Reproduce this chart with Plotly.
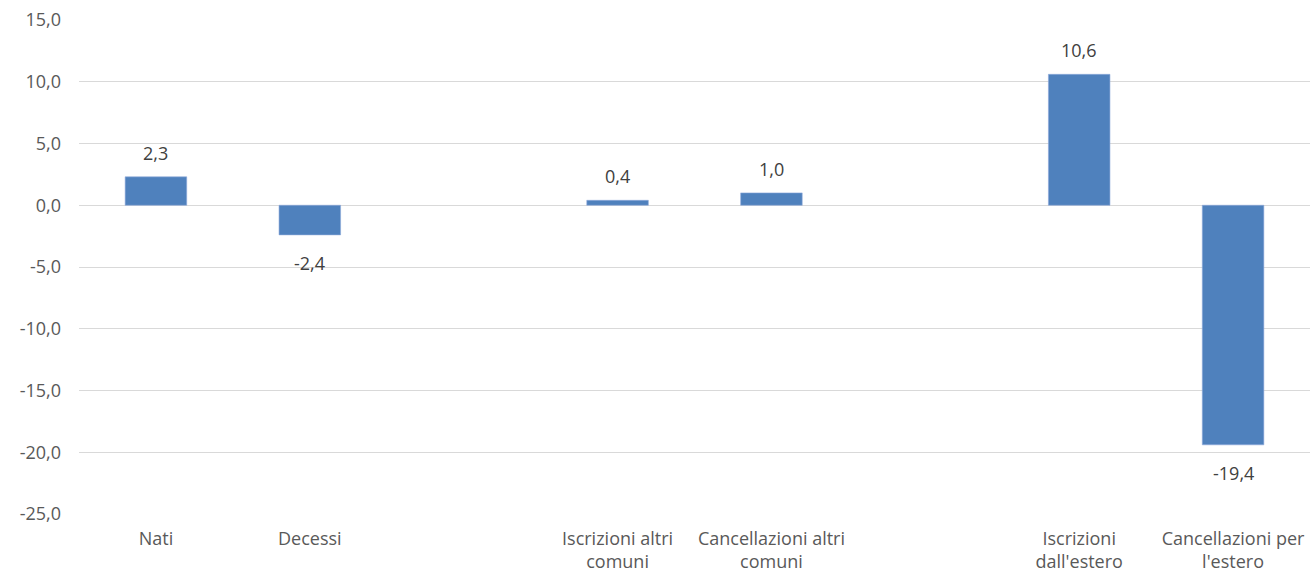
import plotly.graph_objects as go

# Categories (blank slots separate the three groups)
categories = ["Nati", "Decessi", " ", "Iscrizioni altri<br>comuni",
              "Cancellazioni altri<br>comuni", "  ", "Iscrizioni<br>dall'estero",
              "Cancellazioni per<br>l'estero"]
values = [2.3, -2.4, None, 0.4, 1.0, None, 10.6, -19.4]
y_ticks = [15, 10, 5, 0, -5, -10, -15, -20, -25]
y_tick_labels = [f"{v:.1f}".replace(".", ",") for v in y_ticks]

FONT = "'Open Sans', Lato, sans-serif"
FONT_SIZE = 18
BAR_COLOR = "#4F81BD"

fig = go.Figure()
fig.add_trace(go.Bar(
    x=categories,
    y=values,
    marker=dict(color=BAR_COLOR, line=dict(color="#8EAADB", width=0.6)),
    hoverinfo="x+y",
))

# Data labels placed above positive bars and below negative ones
for cat, val in zip(categories, values):
    if val is None:
        continue
    fig.add_annotation(
        x=cat, y=val,
        text=f"{val:.1f}".replace(".", ","),
        showarrow=False,
        yanchor="middle",
        yshift=24 if val >= 0 else -28,
        font=dict(family=FONT, size=FONT_SIZE, color="#404040"),
    )

fig.update_layout(
    width=1310, height=575,
    margin=dict(l=79, r=0, t=20, b=61),
    paper_bgcolor="white",
    plot_bgcolor="white",
    bargap=0.6,
    showlegend=False,
    font=dict(family=FONT, size=FONT_SIZE, color="#595959"),
)
fig.update_xaxes(
    type="category",
    categoryorder="array",
    categoryarray=categories,
    automargin=False,
    showgrid=False,
    showline=False,
    zeroline=False,
    ticks="",
    ticklabelstandoff=12,
    tickfont=dict(family=FONT, size=FONT_SIZE, color="#595959"),
)
fig.update_yaxes(
    range=[-25, 15],
    tickvals=y_ticks,
    ticktext=y_tick_labels,
    automargin=False,
    showgrid=True,
    gridcolor="#D9D9D9",
    gridwidth=1,
    zeroline=True,
    zerolinecolor="#D9D9D9",
    zerolinewidth=1,
    showline=False,
    ticks="",
    ticklabelstandoff=17,
    tickfont=dict(family=FONT, size=FONT_SIZE, color="#595959"),
)

fig.write_html("out.html")
